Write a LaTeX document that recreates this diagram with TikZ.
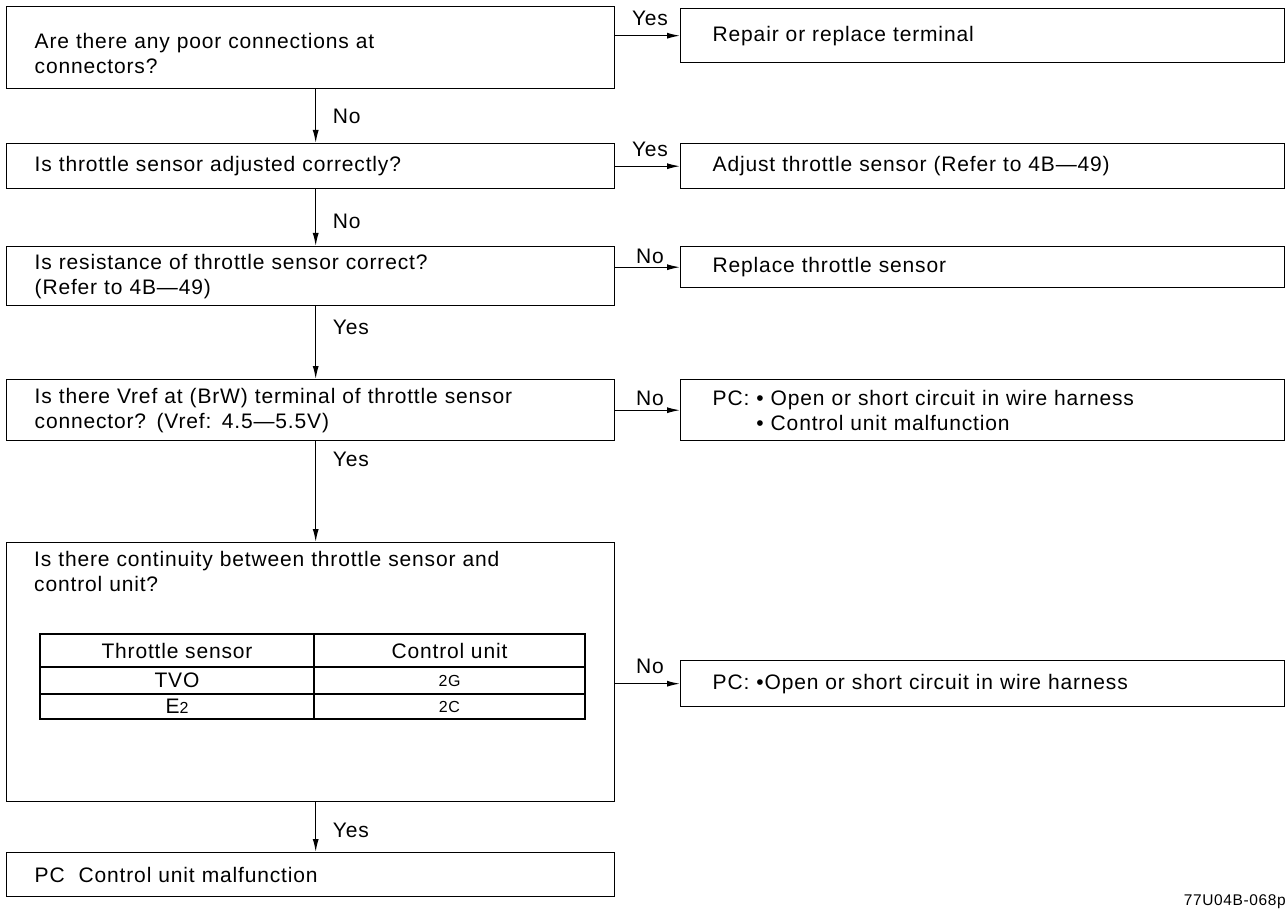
\documentclass[tikz,border=0pt]{standalone}
\usepackage{fontspec}
\setmainfont{Liberation Sans}[LetterSpace=4]
\usetikzlibrary{arrows.meta,calc}
\begin{document}
\begin{tikzpicture}[x=1pt,y=-1pt,
  font=\fontsize{21}{25}\selectfont,
  qbox/.style={draw,line width=1.4pt,anchor=north west,inner xsep=28pt,inner ysep=0pt,text width=552pt,align=left},
  abox/.style={draw,line width=1.4pt,anchor=north west,inner xsep=32pt,inner ysep=0pt,text width=540pt,align=left},
  cell/.style={draw,line width=1.1pt,inner sep=0pt},
  arr/.style={line width=1.2pt,-{Latex[length=13pt,width=6pt]}},
  lbl/.style={inner sep=0pt},
  small/.style={font=\fontsize{16}{16}\selectfont}]
\useasboundingbox (0,0) rectangle (1288,909);
% question boxes
\node[qbox,minimum height=82pt] (q1) at (6,6) {\rule{0pt}{26pt}Are there any poor connections at\\connectors?};
\node[qbox,minimum height=45pt] (q2) at (6,143) {Is throttle sensor adjusted correctly?};
\node[qbox,minimum height=59pt] (q3) at (6,246) {Is resistance of throttle sensor correct?\\(Refer to 4B—49)};
\node[qbox,minimum height=61pt] (q4) at (6,379) {Is there Vref at (BrW) terminal of throttle sensor\\connector? (Vref: 4.5—5.5V)};
\node[qbox,minimum height=259pt] (q5) at (6,542) {};
\node[anchor=north west,inner sep=0pt,text width=552pt,align=left] (q5t) at (34,551) {Is there continuity between throttle sensor and\\control unit?};
\node[qbox,minimum height=44pt] (q6) at (6,852) {PC\ \ Control unit malfunction};
% table
\node[cell,minimum width=274pt,minimum height=33pt] (t11) at (177,650.5) {Throttle sensor};
\node[cell,minimum width=271pt,minimum height=33pt] (t12) at (449.5,650.5) {Control unit};
\node[cell,minimum width=274pt,minimum height=27pt] (t21) at (177,680.5) {TVO};
\node[cell,minimum width=271pt,minimum height=27pt,small] (t22) at (449.5,680.5) {2G};
\node[cell,minimum width=274pt,minimum height=25pt] (t31) at (177,706.5) {E{\fontsize{16}{16}\selectfont 2}};
\node[cell,minimum width=271pt,minimum height=25pt,small] (t32) at (449.5,706.5) {2C};
% answer boxes
\node[abox,minimum height=54pt] (a1) at (680,8) {Repair or replace terminal};
\node[abox,minimum height=45pt] (a2) at (680,143) {Adjust throttle sensor (Refer to 4B—49)};
\node[abox,minimum height=41pt] (a3) at (680,246) {Replace throttle sensor};
\node[abox,minimum height=61pt] (a4) at (680,379) {PC: • Open or short circuit in wire harness\\\phantom{PC: }• Control unit malfunction};
\node[abox,minimum height=46pt] (a5) at (680,660) {PC: •Open or short circuit in wire harness};
% vertical arrows
\draw[arr] ([xshift=5pt]q1.south) -- ([xshift=5pt]q2.north);
\draw[arr] ([xshift=5pt]q2.south) -- ([xshift=5pt]q3.north);
\draw[arr] ([xshift=5pt]q3.south) -- ([xshift=5pt]q4.north);
\draw[arr] ([xshift=5pt]q4.south) -- ([xshift=5pt]q5.north);
\draw[arr] ([xshift=5pt]q5.south) -- ([xshift=5pt]q6.north);
\node[lbl,anchor=west] (v1) at ($(q1.south)+(22,27)$) {No};
\node[lbl,anchor=west] (v2) at ($(q2.south)+(22,32)$) {No};
\node[lbl,anchor=west] (v3) at ($(q3.south)+(22,21)$) {Yes};
\node[lbl,anchor=west] (v4) at ($(q4.south)+(22,18)$) {Yes};
\node[lbl,anchor=west] (v5) at ($(q5.south)+(22,28)$) {Yes};
% horizontal arrows
\draw[arr] (a1.west -| q1.east) -- (a1.west);
\draw[arr] (a2.west -| q2.east) -- (a2.west);
\draw[arr] (a3.west -| q3.east) -- (a3.west);
\draw[arr] (a4.west -| q4.east) -- (a4.west);
\draw[arr] (a5.west -| q5.east) -- (a5.west);
\node[lbl] (h1) at ($(a1.west)+(-30,-17)$) {Yes};
\node[lbl] (h2) at ($(a2.west)+(-30,-17)$) {Yes};
\node[lbl] (h3) at ($(a3.west)+(-30,-11)$) {No};
\node[lbl] (h4) at ($(a4.west)+(-30,-12)$) {No};
\node[lbl] (h5) at ($(a5.west)+(-30,-17)$) {No};
% code
\node[lbl,anchor=south east,font=\fontsize{15.5}{15.5}\selectfont] (code) at (1286,909) {77U04B-068p};
\end{tikzpicture}
\end{document}
